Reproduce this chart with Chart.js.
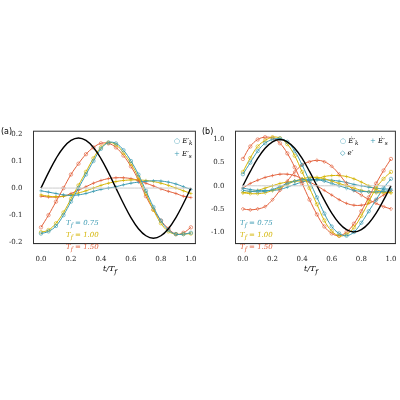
<!DOCTYPE html><html><head><script src="https://cdn.jsdelivr.net/npm/chart.js@4"></script>
<style>body{margin:0;background:#fff;font-family:"DejaVu Serif",serif}
.w{position:absolute}.t{position:absolute;font-size:7px;font-style:italic;white-space:nowrap}</style></head><body>
<div class="w" style="left:0;top:124px;width:200px;height:150px"><canvas id="a"></canvas></div>
<div class="w" style="left:200px;top:124px;width:200px;height:150px"><canvas id="b"></canvas></div>
<div class="t" style="left:1px;top:127px;font-style:normal;font-size:8px;font-family:'DejaVu Sans'">(a)</div>
<div class="t" style="left:202px;top:127px;font-style:normal;font-size:8px;font-family:'DejaVu Sans'">(b)</div>
<div class="t" style="left:103px;top:264px;font-size:8px">t/T<sub>f</sub></div>
<div class="t" style="left:304px;top:264px;font-size:8px">t/T<sub>f</sub></div>
<div class="t" style="left:174px;top:137px"><span style="color:#3b9ab2">○</span> E′<sub>k</sub></div>
<div class="t" style="left:174px;top:150px"><span style="color:#3b9ab2">+</span> E′<sub>s</sub></div>
<div class="t" style="left:66px;top:219px;color:#3b9ab2">T<sub>f</sub> = 0.75</div>
<div class="t" style="left:66px;top:231px;color:#d4b400">T<sub>f</sub> = 1.00</div>
<div class="t" style="left:66px;top:243px;color:#e2603b">T<sub>f</sub> = 1.50</div>
<div class="t" style="left:340px;top:137px"><span style="color:#3b9ab2">○</span> Ė′<sub>k</sub></div>
<div class="t" style="left:340px;top:149px"><span style="color:#3b9ab2">◇</span> e′</div>
<div class="t" style="left:370px;top:137px"><span style="color:#3b9ab2">+</span> Ė′<sub>s</sub></div>
<div class="t" style="left:240px;top:219px;color:#3b9ab2">T<sub>f</sub> = 0.75</div>
<div class="t" style="left:240px;top:231px;color:#d4b400">T<sub>f</sub> = 1.00</div>
<div class="t" style="left:240px;top:243px;color:#e2603b">T<sub>f</sub> = 1.50</div>
<script>
const t=[0,.05,.1,.15,.2,.25,.3,.35,.4,.45,.5,.55,.6,.65,.7,.75,.8,.85,.9,.95,1];
const colors=['#3b9ab2','#d4b400','#e2603b'];
const aBlack=[0,.057,.109,.150,.176,.185,.176,.150,.109,.057,0,-.057,-.109,-.150,-.176,-.185,-.176,-.150,-.109,-.057,0];
const aEk=[[-.168,-.16,-.14,-.10,-.05,0,.05,.10,.145,.168,.165,.14,.10,.05,-.01,-.07,-.12,-.155,-.17,-.17,-.165],
[-.163,-.155,-.13,-.09,-.04,.01,.06,.11,.15,.168,.16,.13,.09,.04,-.02,-.08,-.13,-.16,-.17,-.17,-.168],
[-.145,-.10,-.05,0,.05,.09,.125,.15,.165,.165,.15,.12,.08,.03,-.03,-.08,-.12,-.15,-.17,-.165,-.145]];
const aEs=[[-.01,-.015,-.02,-.025,-.027,-.025,-.02,-.012,-.005,0,.005,.012,.018,.022,.025,.027,.026,.022,.015,.005,-.005],
[-.025,-.03,-.032,-.03,-.025,-.018,-.01,0,.01,.018,.024,.028,.03,.03,.028,.024,.018,.01,0,-.01,-.02],
[-.03,-.033,-.033,-.03,-.02,-.008,.005,.018,.028,.035,.038,.038,.035,.028,.018,.008,-.003,-.012,-.02,-.03,-.035]];
const bBlack=[0,.31,.59,.81,.95,1,.95,.81,.59,.31,0,-.31,-.59,-.81,-.95,-1,-.95,-.81,-.59,-.31,0];
const bEk=[[.25,.5,.75,.92,1.0,1.02,.95,.75,.45,.1,-.25,-.6,-.88,-1.03,-1.08,-1.0,-.8,-.55,-.3,-.05,.15],
[.3,.6,.85,.98,1.05,1.03,.9,.65,.3,-.05,-.4,-.75,-.98,-1.08,-1.05,-.9,-.65,-.35,-.05,.15,.3],
[.58,.85,1.0,1.05,1.03,.92,.7,.4,.05,-.3,-.62,-.88,-1.03,-1.08,-1.0,-.82,-.55,-.25,.05,.33,.58]];
const bE=[[-.1,-.12,-.13,-.12,-.08,-.02,.05,.1,.13,.14,.13,.1,.05,0,-.05,-.1,-.12,-.13,-.13,-.12,-.1],
[-.15,-.17,-.17,-.15,-.1,-.04,.03,.1,.15,.18,.18,.15,.1,.05,0,-.05,-.1,-.13,-.15,-.15,-.15],
[-.5,-.52,-.5,-.45,-.3,-.1,.1,.3,.45,.52,.55,.52,.42,.25,.05,-.1,-.2,-.3,-.38,-.45,-.5]];
const bEs=[[-.05,-.08,-.1,-.1,-.1,-.08,-.03,.03,.08,.12,.13,.13,.12,.1,.07,.03,0,-.03,-.05,-.07,-.07],
[-.15,-.13,-.1,-.05,0,.05,.08,.1,.1,.12,.15,.2,.22,.22,.2,.15,.08,0,-.08,-.13,-.15],
[-.05,.05,.12,.18,.22,.25,.25,.22,.15,.08,0,-.1,-.2,-.3,-.38,-.42,-.42,-.38,-.3,-.2,-.1]];
const pts=a=>a.map((v,i)=>({x:t[i],y:v}));
function ds(a,c,style){return{data:pts(a),borderColor:c,backgroundColor:'rgba(0,0,0,0)',borderWidth:1,tension:.4,pointStyle:style||false,pointRadius:style?1.7:0,pointBorderWidth:.6,pointBorderColor:c};}
const box={id:'box',afterDraw(c){const a=c.chartArea,x=c.ctx;x.save();x.strokeStyle='#333';x.lineWidth=1;x.strokeRect(a.left,a.top,a.right-a.left,a.bottom-a.top);x.restore();}};
function make(id,black,groups,ymin,ymax,step,padL){
 const d=[ds(t.map(()=>0),'#cccccc'),ds(black,'#000')];d[1].borderWidth=1.4;
 groups.forEach(([arr,st])=>arr.forEach((a,i)=>d.push(ds(a,colors[i],st))));
 new Chart(document.getElementById(id),{type:'line',data:{datasets:d},plugins:[box],options:{animation:false,responsive:true,maintainAspectRatio:false,
 plugins:{legend:{display:false},tooltip:{enabled:false}},layout:{padding:{left:padL,right:4,top:4,bottom:8}},
 scales:{x:{type:'linear',min:-0.05,max:1.03,afterBuildTicks:s=>{s.ticks=[0,.2,.4,.6,.8,1].map(v=>({value:v}))},ticks:{callback:v=>v.toFixed(1),font:{size:7,family:'DejaVu Serif'},color:'#222'},grid:{display:false},border:{color:'#333'}},
 y:{min:ymin,max:ymax,afterBuildTicks:s=>{const r=[];for(let v=-Math.floor(-ymin/step)*step;v<=ymax+1e-9;v+=step)r.push({value:+v.toFixed(2)});s.ticks=r},ticks:{callback:v=>v.toFixed(1),font:{size:7,family:'DejaVu Serif'},color:'#222'},grid:{display:false},border:{color:'#333'}}}}});}
make('a',aBlack,[[aEk,'circle'],[aEs,'cross']],-0.205,0.21,0.1,6);
make('b',bBlack,[[bEk,'circle'],[bE,'rectRot'],[bEs,'cross']],-1.25,1.18,0.5,8);
</script></body></html>
